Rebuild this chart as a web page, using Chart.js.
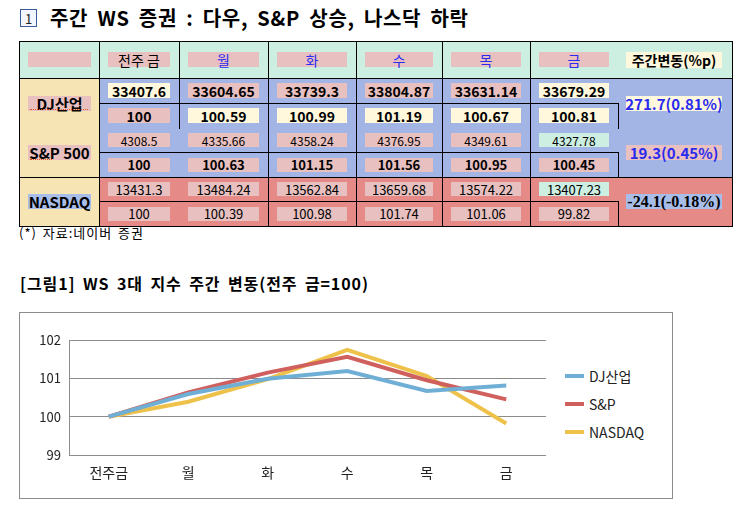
<!DOCTYPE html>
<html><head><meta charset="utf-8">
<script src="https://cdn.jsdelivr.net/npm/chart.js@4/dist/chart.umd.min.js"></script>
<style>
body{margin:0;width:755px;height:514px;background:#fff;position:relative;overflow:hidden;font-family:"Noto Sans CJK KR","Noto Sans",sans-serif;color:#000;}
.a{position:absolute;white-space:nowrap;}
.box{position:absolute;display:flex;align-items:center;justify-content:center;white-space:nowrap;line-height:1;}
.ln{position:absolute;background:#000;}
</style></head><body>
<div id="page"></div>
<div class="a" style="left:19px;top:312px;width:652px;height:185px;border:1px solid #8c8c8c;"></div>
<div class="a" style="left:20px;top:313px;width:651px;height:184px;"><canvas id="c"></canvas></div>
<script>
// ---- data ----
const titleText = '주간 WS 증권 : 다우, S&P 상승, 나스닥 하락';
const subtitleText = '[그림1] WS 3대 지수 주간 변동(전주 금=100)';
const footnoteText = '(*) 자료:네이버 증권';
const headerLabels = ['전주 금', '월', '화', '수', '목', '금'];
const changeHeader = '주간변동(%p)';
const indexNames = ['DJ산업', 'S&P  500', 'NASDAQ'];
const djValues = ['33407.6', '33604.65', '33739.3', '33804.87', '33631.14', '33679.29'];
const djIndex = [100, 100.59, 100.99, 101.19, 100.67, 100.81];
const spValues = ['4308.5', '4335.66', '4358.24', '4376.95', '4349.61', '4327.78'];
const spIndex = [100, 100.63, 101.15, 101.56, 100.95, 100.45];
const nqValues = ['13431.3', '13484.24', '13562.84', '13659.68', '13574.22', '13407.23'];
const nqIndex = [100, 100.39, 100.98, 101.74, 101.06, 99.82];
const weeklyChange = ['271.7(0.81%)', '19.3(0.45%)', '-24.1(-0.18%)'];
const chartLabels = ['전주금', '월', '화', '수', '목', '금'];
const seriesNames = ['DJ산업', 'S&P', 'NASDAQ'];
const yTicks = [99, 100, 101, 102];

// ---- layout / style ----
const page = document.getElementById('page');
const C = {mint:'#ccefe1', beige:'#f6e4b4', peri:'#a3b5e4', salmon:'#e58a87', pink:'#e8c0c0', cream:'#fff8dc', blue:'#2b2bef', periBox:'#a9bde9'};
function el(cls, css, text){const d=document.createElement('div');d.className=cls;d.style.cssText=css;if(text!==undefined)d.textContent=text;page.appendChild(d);return d;}
function rect(x1,y1,x2,y2,bg){el('a',`left:${x1}px;top:${y1}px;width:${x2-x1}px;height:${y2-y1}px;background:${bg}`);}
function box(x1,x2,yc,h,bg,text,font,color){el('box',`left:${x1}px;width:${x2-x1}px;top:${yc-h/2}px;height:${h}px;background:${bg};font:${font};color:${color||'#000'}`,text);}
function hl(y,x1,x2){el('ln',`left:${x1}px;top:${Math.floor(y)}px;width:${x2-x1+1}px;height:1px`);}
function vl(x,y1,y2){el('ln',`left:${x}px;top:${Math.floor(y1)}px;width:1px;height:${Math.round(y2-y1)+1}px`);}

// title
el('box',`left:20px;top:9px;width:15px;height:16px;border:1px solid #3b5c9c;background:#f3f6fc;font:13px "Noto Sans CJK KR";color:#222`,'1');
el('a',`left:50px;top:4px;font:bold 20px "Noto Sans CJK KR";word-spacing:4px;letter-spacing:0.7px;line-height:28px`,titleText);

const colX = [19, 99, 179, 268, 356, 442, 530, 618, 732];
// backgrounds
rect(19,41,732,78,C.mint);
rect(19,78,99,226,C.beige);
rect(99,78,732,177,C.peri);
rect(99,177,732,226,C.salmon);

// header
box(28,91,59.5,15,C.pink,'', '13px sans-serif');
headerLabels.forEach((t,i)=>{
  box(colX[i+1]+9,colX[i+2]-9,59.5,15,C.pink,t, '14px "Noto Sans CJK KR"', i===0?'#000':C.blue);
});
box(626,722,59.5,16,C.cream,changeHeader,'bold 14px "Noto Sans CJK KR"');

// data rows
const rowSpecs = [
  {vals:djValues, yc:90.5, h:15, font:'bold 14px "Noto Sans CJK KR"', bg:['cream','pink','pink','pink','pink','cream']},
  {vals:djIndex, yc:115.5, h:15, font:'bold 14px "Noto Sans CJK KR"', bg:['pink','cream','cream','cream','cream','cream']},
  {vals:spValues, yc:140.2, h:14, font:'12px "Noto Sans CJK KR"', bg:['pink','pink','pink','pink','pink','mint']},
  {vals:spIndex, yc:164.7, h:14, font:'bold 13px "Noto Sans CJK KR"', bg:['pink','pink','pink','pink','pink','pink']},
  {vals:nqValues, yc:189.2, h:14, font:'13px "Noto Sans CJK KR"', bg:['pink','pink','pink','pink','pink','mint']},
  {vals:nqIndex, yc:213.7, h:14, font:'13px "Noto Sans CJK KR"', bg:['pink','pink','pink','pink','pink','pink']},
];
rowSpecs.forEach(r=>{
  r.vals.forEach((v,i)=>{
    box(colX[i+1]+9,colX[i+2]-9,r.yc,r.h,C[r.bg[i]],String(v),r.font);
  });
});
// index names
const nameY = [103.2, 152.5, 201.5];
const nameBg = [C.pink, C.pink, C.periBox];
indexNames.forEach((n,i)=>{
  box(28,91,nameY[i],15,nameBg[i],n,'bold 15px "Noto Sans CJK KR"');
});
// dotted squiggles under spell-check words
el('a','left:30px;top:109px;width:58px;height:0;border-bottom:1px dotted #e05a20');
el('a','left:30px;top:159px;width:22px;height:0;border-bottom:1px dotted #e05a20');
// weekly change
const chgFont = ['bold 15px "Noto Sans CJK KR"','bold 15px "Noto Sans CJK KR"','bold 16px "Liberation Serif"'];
const chgColor = [C.blue, C.blue, '#000'];
const chgBg = [C.cream, C.pink, C.periBox];
weeklyChange.forEach((t,i)=>{
  box(626,722,nameY[i],15,chgBg[i],t,chgFont[i],chgColor[i]);
});

// grid lines
hl(41,19,732); hl(78,19,732); hl(103,99,618); hl(152.5,99,618); hl(177,19,732); hl(201.5,99,618); hl(226,19,732);
vl(19,41,226); vl(99,41,226); vl(179,41,128); vl(268,41,226); vl(356,41,226); vl(442,41,226); vl(530,41,226);
vl(618,103,128); vl(618,152.5,177); vl(618,201.5,226); vl(732,41,226);

// footnote & subtitle
el('a',`left:19px;top:225px;font:13px "Noto Sans CJK KR";letter-spacing:1px;word-spacing:2px;line-height:16px`,footnoteText);
el('a',`left:20px;top:272px;font:bold 16px "Noto Sans CJK KR";letter-spacing:0.9px;word-spacing:3px;line-height:22px`,subtitleText);

// chart
const seriesData = [djIndex, spIndex, nqIndex];
const seriesColors = ['#6fafd6', '#d0605e', '#eec24a'];
const FONT = '"Noto Sans CJK KR","Noto Sans",sans-serif';
new Chart(document.getElementById('c'), {
  type:'line',
  data:{labels:chartLabels, datasets:seriesNames.map((n,i)=>({label:n,data:seriesData[i],borderColor:seriesColors[i],backgroundColor:seriesColors[i]}))},
  options:{
    responsive:true, maintainAspectRatio:false, animation:false,
    layout:{padding:{left:0,top:27,right:125,bottom:0}},
    plugins:{legend:{display:false}, tooltip:{enabled:false}},
    elements:{point:{radius:0}, line:{tension:0, borderWidth:4, borderCapStyle:'butt', borderJoinStyle:'miter'}},
    scales:{
      x:{offset:true, grid:{display:false, drawTicks:false}, border:{display:false},
         ticks:{padding:9, color:'#222', font:{size:14, family:FONT}},
         afterFit(s){s.height=42;}},
      y:{min:99, max:102, afterBuildTicks(s){s.ticks=yTicks.map(v=>({value:v}));},
         ticks:{padding:8, color:'#222', font:{size:13, family:FONT}},
         grid:{color:'#8c8c8c', drawTicks:false}, border:{color:'#8c8c8c'},
         afterFit(s){s.width=49;}}
    }
  }
});
// legend
const legY = [375.7, 404, 431.7];
seriesNames.forEach((n,i)=>{
  el('a',`left:565px;top:${legY[i]-2}px;width:19px;height:4px;background:${seriesColors[i]}`);
  el('a',`left:589px;top:${legY[i]-10}px;font:14px ${FONT};color:#222;line-height:20px`,n);
});
</script>
</body></html>
